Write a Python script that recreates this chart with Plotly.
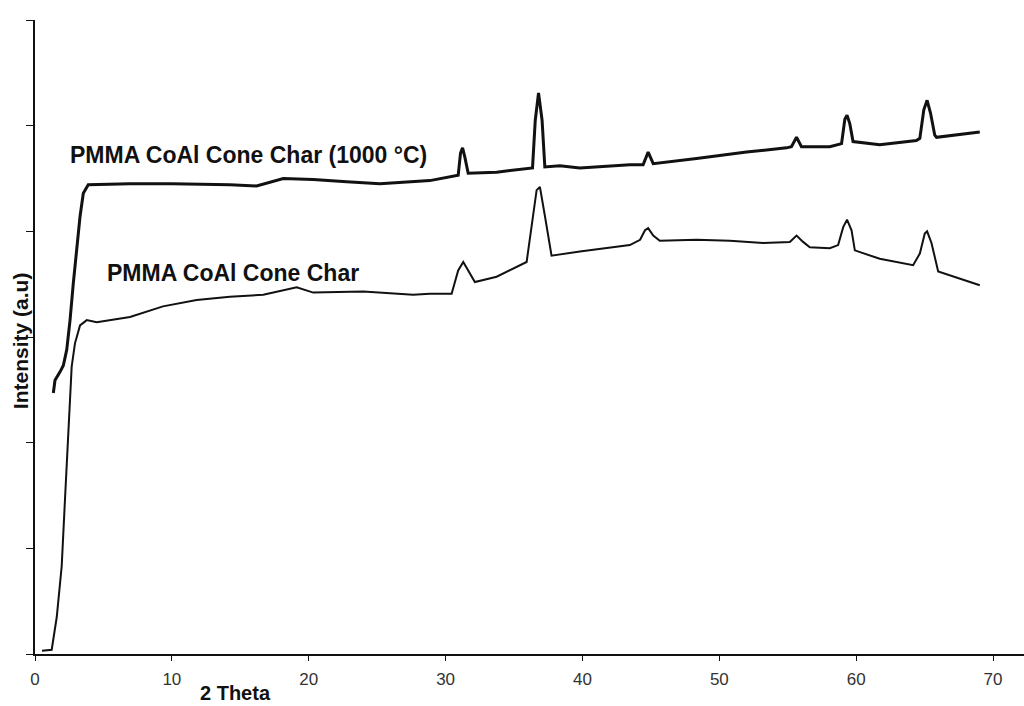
import plotly.graph_objects as go

# Top series: PMMA CoAl Cone Char (1000 °C)
top_x = [1.34, 1.46, 1.83, 2.07, 2.32, 2.56, 2.80, 3.29, 3.53, 3.89, 6.94, 10.0, 14.24, 16.19,
         18.14, 20.33, 22.77, 25.20, 28.85, 30.68, 30.92, 31.09, 31.24, 31.41, 31.65, 33.73,
         36.16, 36.35, 36.55, 36.79, 37.05, 37.25, 38.35, 39.81, 43.46, 44.43, 44.80, 45.17,
         48.34, 51.99, 54.91, 55.27, 55.64, 56.00, 58.07, 58.93, 59.17, 59.33, 59.53, 59.77,
         61.72, 64.40, 64.65, 64.94, 65.18, 65.43, 65.74, 65.87, 69.03]
top_y = [2.47, 2.59, 2.67, 2.73, 2.88, 3.16, 3.51, 4.14, 4.36, 4.44, 4.45, 4.45, 4.44, 4.43,
         4.50, 4.49, 4.47, 4.45, 4.48, 4.52, 4.53, 4.74, 4.79, 4.70, 4.55, 4.56,
         4.60, 4.60, 5.05, 5.31, 5.05, 4.61, 4.62, 4.60, 4.63, 4.63, 4.75, 4.64,
         4.69, 4.75, 4.79, 4.80, 4.89, 4.80, 4.80, 4.83, 5.06, 5.10, 5.02, 4.85,
         4.82, 4.86, 4.88, 5.15, 5.24, 5.12, 4.91, 4.89, 4.94]

# Bottom series: PMMA CoAl Cone Char
bot_x = [0.51, 1.22, 1.59, 1.95, 2.19, 2.43, 2.56, 2.68, 2.92, 3.29, 3.78, 4.51, 6.94, 9.35,
         11.81, 14.24, 16.68, 18.14, 19.12, 20.33, 23.98, 27.63, 28.85, 30.44, 30.92, 31.29,
         31.78, 32.14, 33.73, 35.92, 36.65, 36.89, 37.25, 37.74, 39.81, 43.46, 44.21, 44.57,
         44.80, 45.17, 45.65, 48.34, 50.77, 53.20, 55.15, 55.64, 56.12, 56.61, 58.07, 58.68,
         59.05, 59.33, 59.66, 59.90, 61.72, 64.16, 64.65, 65.01, 65.18, 65.50, 65.99, 69.03]
bot_y = [0.03, 0.04, 0.35, 0.83, 1.46, 2.09, 2.40, 2.72, 2.94, 3.11, 3.16, 3.14, 3.19, 3.29,
         3.35, 3.38, 3.40, 3.44, 3.47, 3.42, 3.43, 3.40, 3.41, 3.41, 3.63, 3.71,
         3.60, 3.52, 3.57, 3.71, 4.39, 4.42, 4.15, 3.77, 3.81, 3.87, 3.92, 4.01,
         4.03, 3.96, 3.91, 3.92, 3.91, 3.89, 3.90, 3.96, 3.90, 3.85, 3.84, 3.87,
         4.04, 4.11, 4.01, 3.82, 3.74, 3.68, 3.79, 3.98, 4.00, 3.89, 3.62, 3.49]

x_ticks = [0, 10, 20, 30, 40, 50, 60, 70]
y_ticks = [0, 1, 2, 3, 4, 5, 6]

label_top = "PMMA CoAl Cone Char (1000 °C)"
label_bot = "PMMA CoAl Cone Char"

fig = go.Figure()
fig.add_trace(go.Scatter(x=top_x, y=top_y, mode="lines",
                         line=dict(color="#111111", width=3), showlegend=False))
fig.add_trace(go.Scatter(x=bot_x, y=bot_y, mode="lines",
                         line=dict(color="#111111", width=2), showlegend=False))

bold_font = dict(family="Liberation Sans, Arial, sans-serif", size=23, color="#111111")
narrow = "Liberation Sans Narrow, Liberation Sans, Arial"

fig.add_annotation(x=2.41, y=4.72, xref="x", yref="y", text="<b>" + label_top + "</b>",
                   showarrow=False, xanchor="left", yanchor="middle", font=bold_font)
fig.add_annotation(x=5.11, y=3.61, xref="x", yref="y", text="<b>" + label_bot + "</b>",
                   showarrow=False, xanchor="left", yanchor="middle", font=bold_font)
fig.add_annotation(x=0.203, y=-0.0615, xref="paper", yref="paper", text="<b>2 Theta</b>",
                   showarrow=False, xanchor="center", yanchor="middle",
                   font=dict(family=narrow, size=20, color="#111111"))
fig.add_annotation(x=-0.0152, y=0.495, xref="paper", yref="paper", text="<b>Intensity (a.u)</b>",
                   showarrow=False, xanchor="center", yanchor="middle", textangle=-90,
                   font=dict(family=narrow, size=21, color="#111111"))

fig.update_layout(
    width=1024, height=706,
    margin=dict(l=35, r=0, t=20, b=52),
    paper_bgcolor="white", plot_bgcolor="white",
    xaxis=dict(range=[0, 72.26], tickvals=x_ticks, ticks="outside", ticklen=5, tickcolor="#111111",
               showline=True, linecolor="#111111", linewidth=1.5, showgrid=False, zeroline=False,
               ticklabelstandoff=4,
               tickfont=dict(family=narrow, size=17, color="#333333")),
    yaxis=dict(range=[0, 6], tickvals=y_ticks, ticks="outside", ticklen=7, tickcolor="#111111",
               showline=True, linecolor="#111111", linewidth=1.5, showgrid=False, zeroline=False,
               showticklabels=False),
)

fig.write_html("out.html")
